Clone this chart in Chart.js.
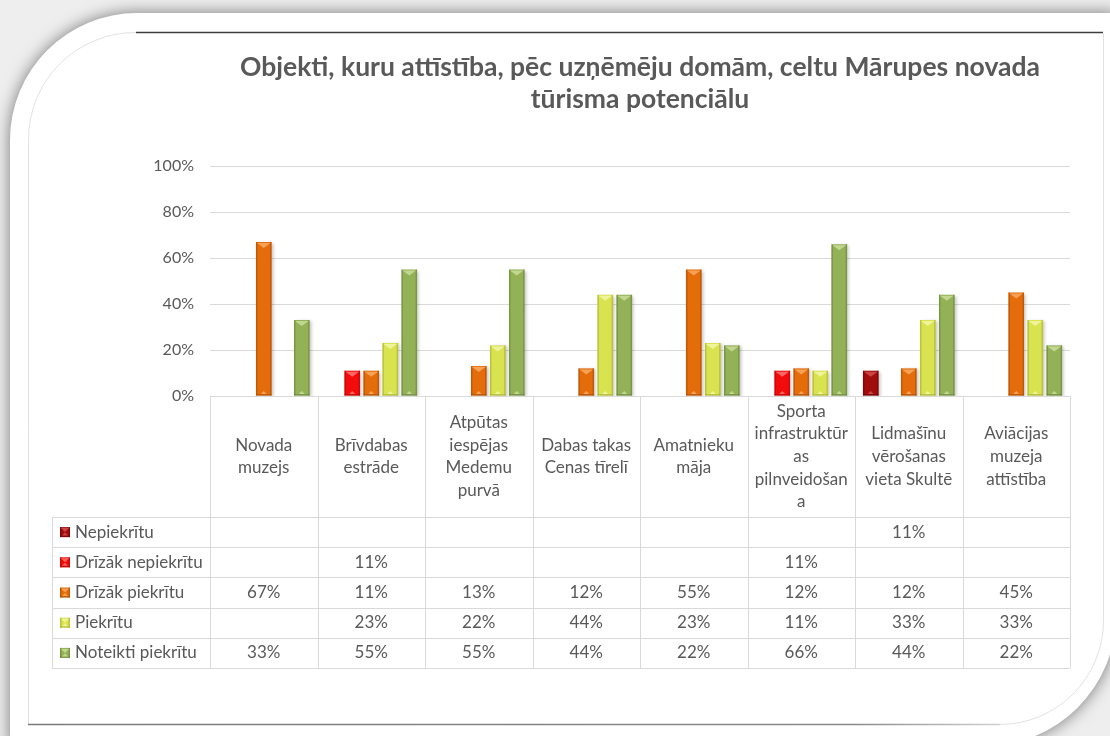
<!DOCTYPE html>
<html lang="lv">
<head>
<meta charset="utf-8">
<title>Mārupes novada tūrisma potenciāls</title>
<script src="https://cdn.jsdelivr.net/npm/chart.js@4.4.1/dist/chart.umd.min.js"></script>
<style>
  html, body { margin: 0; padding: 0; background: #ececec; }
  canvas { display: block; }
</style>
</head>
<body>
<canvas id="chart" width="1110" height="736"></canvas>
<script>
// Kategorijas (galvenes rindas tekstu sadalām pa rindām kā tabulā)
const categories = [
    ['Novada', 'muzejs'],
    ['Brīvdabas', 'estrāde'],
    ['Atpūtas', 'iespējas', 'Medemu', 'purvā'],
    ['Dabas takas', 'Cenas tīrelī'],
    ['Amatnieku', 'māja'],
    ['Sporta', 'infrastruktūr', 'as', 'pilnveidošan', 'a'],
    ['Lidmašīnu', 'vērošanas', 'vieta Skultē'],
    ['Aviācijas', 'muzeja', 'attīstība']
];

const seriesNames = ['Nepiekrītu', 'Drīzāk nepiekrītu', 'Drīzāk piekrītu', 'Piekrītu', 'Noteikti piekrītu'];

// Vērtības procentos
const nepiekritu       = [null, null, null, null, null, null, 11, null];
const drizakNepiekritu = [null, 11, null, null, null, 11, null, null];
const drizakPiekritu   = [67, 11, 13, 12, 55, 12, 12, 45];
const piekritu         = [null, 23, 22, 44, 23, 11, 33, 33];
const noteiktiPiekritu = [33, 55, 55, 44, 22, 66, 44, 22];

const titleLines = ['Objekti, kuru attīstība, pēc uzņēmēju domām, celtu Mārupes novada', 'tūrisma potenciālu'];

// Krāsas: pamatkrāsa, gaišā (slīpne) un tumšā (malas)
const baseColors  = ['#a10d0d', '#f20c0c', '#e46c0a', '#d9e24f', '#93b156'];
const lightColors = ['#cf4a4a', '#ff7070', '#f7a75e', '#f1f6a2', '#c7dc96'];
const darkColors  = ['#6a0606', '#b20505', '#a44c05', '#a3ab2c', '#67823a'];

const FONT = "Lato, 'Open Sans', sans-serif";
const TEXT = '#595959';
const GRID = '#d9d9d9';

const HEADER_H = 121;
const ROW_H = 30.2;
const LEGEND_LEFT = 52;

// Fons ar noapaļotu karti un ēnu
const framePlugin = {
    id: 'frame',
    beforeDraw(chart) {
        const ctx = chart.ctx;
        const w = chart.width, h = chart.height;
        ctx.save();
        ctx.fillStyle = '#eeeeee';
        ctx.fillRect(0, 0, w, h);

        ctx.shadowColor = 'rgba(0,0,0,0.5)';
        ctx.shadowBlur = 16;
        ctx.fillStyle = '#ffffff';
        ctx.beginPath();
        ctx.moveTo(10, h + 20);
        ctx.lineTo(10, 140);
        ctx.arcTo(10, 13, 137, 13, 127);
        ctx.lineTo(1116, 13);
        ctx.lineTo(1116, 615);
        ctx.arcTo(1116, 746, 985, 746, 131);
        ctx.lineTo(10, 746);
        ctx.closePath();
        ctx.fill();
        ctx.restore();

        ctx.save();
        // augšējā tumšā līnija
        ctx.strokeStyle = '#3d3d3d';
        ctx.lineWidth = 1.5;
        ctx.beginPath();
        ctx.moveTo(136, 32.5);
        ctx.lineTo(1103, 32.5);
        ctx.stroke();

        // plānā iekšējā mala
        ctx.strokeStyle = '#e2e2e2';
        ctx.lineWidth = 1;
        ctx.beginPath();
        ctx.moveTo(136, 32.5);
        ctx.arcTo(28.5, 32.5, 28.5, 140, 107);
        ctx.lineTo(28.5, 724);
        ctx.stroke();

        ctx.beginPath();
        ctx.moveTo(1000, 724.5);
        ctx.arcTo(1103.5, 724.5, 1103.5, 620, 104);
        ctx.lineTo(1103.5, 33);
        ctx.stroke();

        // apakšējā līnija
        const g = ctx.createLinearGradient(28, 0, 1000, 0);
        g.addColorStop(0, '#7a7a7a');
        g.addColorStop(0.85, '#8a8a8a');
        g.addColorStop(1, '#d0d0d0');
        ctx.strokeStyle = g;
        ctx.lineWidth = 1.5;
        ctx.beginPath();
        ctx.moveTo(28, 724.5);
        ctx.lineTo(1000, 724.5);
        ctx.stroke();
        ctx.restore();
    }
};

// Virsraksts
const titlePlugin = {
    id: 'titleLines',
    afterDraw(chart) {
        const ctx = chart.ctx;
        const area = chart.chartArea;
        const cx = (area.left + area.right) / 2;
        ctx.save();
        ctx.font = 'bold 26.5px ' + FONT;
        ctx.fillStyle = TEXT;
        ctx.textAlign = 'center';
        ctx.textBaseline = 'alphabetic';
        titleLines.forEach((line, i) => ctx.fillText(line, cx, 76 + i * 32));
        ctx.restore();
    }
};

// Stabiņu ēna
const shadowPlugin = {
    id: 'barShadow',
    beforeDatasetsDraw(chart) {
        const ctx = chart.ctx;
        ctx.save();
        ctx.shadowColor = 'rgba(0,0,0,0.22)';
        ctx.shadowBlur = 3;
        ctx.shadowOffsetX = 2;
        ctx.shadowOffsetY = 1;
    },
    afterDatasetsDraw(chart) {
        chart.ctx.restore();
    }
};

// Slīpnes efekts katram stabiņam
function drawBevel(ctx, l, t, r, b, si) {
    const w = r - l;
    const h = b - t;
    const cx = (l + r) / 2;
    ctx.save();
    ctx.fillStyle = darkColors[si];
    ctx.globalAlpha = 0.55;
    ctx.fillRect(l, t, 1.5, h);
    ctx.fillRect(r - 1.5, t, 1.5, h);
    ctx.fillRect(l, b - 1.5, w, 1.5);
    ctx.globalAlpha = 0.9;
    ctx.fillStyle = lightColors[si];
    ctx.beginPath();
    ctx.moveTo(l + 1, t + 1);
    ctx.lineTo(r - 1, t + 1);
    ctx.lineTo(cx, t + Math.min(6, h / 2));
    ctx.closePath();
    ctx.fill();
    if (h > 8) {
        ctx.beginPath();
        ctx.moveTo(cx - 3, b - 1.5);
        ctx.lineTo(cx + 3, b - 1.5);
        ctx.lineTo(cx, b - 4.5);
        ctx.closePath();
        ctx.fill();
    }
    ctx.restore();
}

const bevelPlugin = {
    id: 'bevel',
    afterDatasetsDraw(chart) {
        const ctx = chart.ctx;
        chart.data.datasets.forEach((ds, di) => {
            const meta = chart.getDatasetMeta(di);
            meta.data.forEach((bar, i) => {
                if (ds.data[i] == null) return;
                const p = bar.getProps(['x', 'y', 'base', 'width'], true);
                drawBevel(ctx, p.x - p.width / 2, p.y, p.x + p.width / 2, p.base, di);
            });
        });
    }
};

// Datu tabula zem grafika
const tablePlugin = {
    id: 'dataTable',
    afterDraw(chart) {
        const ctx = chart.ctx;
        const area = chart.chartArea;
        const xs = chart.scales.x;
        const n = categories.length;
        const colW = (area.right - area.left) / n;
        const top = area.bottom;
        const headBottom = top + HEADER_H;
        const rows = chart.data.datasets.length;
        const bottom = headBottom + rows * ROW_H;

        ctx.save();
        ctx.strokeStyle = GRID;
        ctx.lineWidth = 1;

        // vertikālās līnijas
        for (let i = 0; i <= n; i++) {
            const x = Math.round(area.left + i * colW) + 0.5;
            ctx.beginPath();
            ctx.moveTo(x, top);
            ctx.lineTo(x, bottom);
            ctx.stroke();
        }
        ctx.beginPath();
        ctx.moveTo(LEGEND_LEFT + 0.5, headBottom);
        ctx.lineTo(LEGEND_LEFT + 0.5, bottom);
        ctx.stroke();

        // horizontālās līnijas
        for (let r = 0; r <= rows; r++) {
            const y = Math.round(headBottom + r * ROW_H) + 0.5;
            ctx.beginPath();
            ctx.moveTo(LEGEND_LEFT, y);
            ctx.lineTo(area.right, y);
            ctx.stroke();
        }

        ctx.fillStyle = TEXT;
        ctx.font = '17px ' + FONT;
        ctx.textAlign = 'center';
        ctx.textBaseline = 'middle';

        // galvene
        const lh = 22.6;
        categories.forEach((lines, i) => {
            const cx = xs.getPixelForValue(i);
            const startY = top + HEADER_H / 2 - (lines.length - 1) * lh / 2;
            lines.forEach((line, k) => ctx.fillText(line, cx, startY + k * lh));
        });

        // rindas ar vērtībām un leģendu
        chart.data.datasets.forEach((ds, di) => {
            const cy = headBottom + di * ROW_H + ROW_H / 2;
            ctx.save();
            ctx.fillStyle = baseColors[di];
            ctx.fillRect(60, cy - 5, 10, 10);
            ctx.restore();
            drawBevel(ctx, 60, cy - 5, 70, cy + 5, di);
            ctx.textAlign = 'left';
            ctx.fillText(ds.label, 75, cy);
            ctx.textAlign = 'center';
            ds.data.forEach((v, i) => {
                if (v == null) return;
                ctx.fillText(v + '%', xs.getPixelForValue(i), cy);
            });
        });
        ctx.restore();
    }
};

const seriesData = [nepiekritu, drizakNepiekritu, drizakPiekritu, piekritu, noteiktiPiekritu];

new Chart(document.getElementById('chart'), {
    type: 'bar',
    data: {
        labels: categories,
        datasets: seriesData.map((values, i) => ({
            label: seriesNames[i],
            data: values,
            backgroundColor: baseColors[i],
            borderWidth: 0,
            categoryPercentage: 0.884,
            barPercentage: 0.82
        }))
    },
    options: {
        responsive: false,
        animation: false,
        devicePixelRatio: 1,
        layout: {
            padding: { top: 166, left: 150, right: 40, bottom: 68 }
        },
        plugins: {
            legend: { display: false },
            title: { display: false },
            tooltip: { enabled: false }
        },
        scales: {
            x: {
                grid: { display: false },
                ticks: { display: false },
                border: { display: true, color: GRID },
                afterFit(scale) { scale.height = HEADER_H + 5 * ROW_H; }
            },
            y: {
                min: 0,
                max: 100,
                ticks: {
                    stepSize: 20,
                    padding: 16,
                    color: TEXT,
                    font: { family: FONT, size: 16 },
                    callback: v => v + '%'
                },
                grid: { color: GRID, drawTicks: false },
                border: { display: false },
                afterFit(scale) { scale.width = 60; }
            }
        }
    },
    plugins: [framePlugin, shadowPlugin, bevelPlugin, tablePlugin, titlePlugin]
});
</script>
</body>
</html>
